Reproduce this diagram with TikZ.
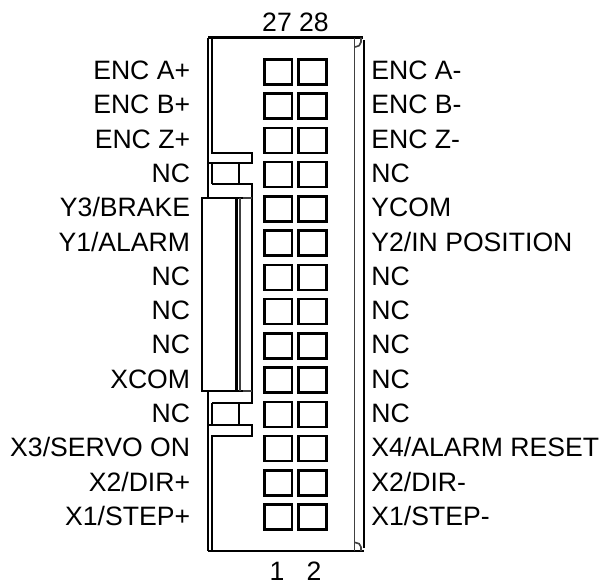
\documentclass[tikz,border=0pt]{standalone}
\usepackage{fontspec}
\setmainfont{Liberation Sans}
\tikzset{
    pinbox/.style={draw, line width=1.25pt, inner sep=0pt, minimum width=13.8pt, minimum height=12.5pt},
    pinlabel/.style={inner sep=0pt, font=\fontsize{13.3}{16}\selectfont},
    body/.style={line width=1.1pt},
    thinbody/.style={line width=0.8pt, black!75}
}

\begin{document}
\begin{tikzpicture}[x=0.5pt, y=-0.5pt]
    \useasboundingbox (0,0) rectangle (599,584);

    % Housing
    \draw[body] (208,37.5) -- (363,37.5);
    \draw[body] (208,551) -- (364,551);
    \draw[body] (208,37.5) -- (208,198);
    \draw[body] (208,391) -- (208,551);
    \draw[thinbody] (354.3,37.5) -- (354.3,551);
    \draw[body] (364.3,40) -- (364.3,548);
    \draw[thinbody] (361,37.5) -- (361,42) to[out=270,in=0] (355,47);
    \draw[thinbody] (361,551) -- (361,547) to[out=90,in=0] (355,542.5);

    % Upper latch
    \draw[body] (212,37.5) -- (212,153.3) -- (252,153.3) -- (252,163.3) -- (208,163.3);
    \draw[body] (212,163.3) -- (212,184.3);
    \draw[body] (239,163.3) -- (239,184.3);
    \draw[body] (212,184.3) -- (252,184.3) -- (252,403) -- (212,403);

    % Lower latch
    \draw[body] (212,403) -- (212,425);
    \draw[body] (239,403) -- (239,425);
    \draw[body] (208,425) -- (252,425) -- (252,435.7) -- (212,435.7) -- (212,551);

    % Side plug
    \draw[body] (202,198) rectangle (236.5,391);
    \draw[body] (236.5,198) -- (243,198);
    \draw[body] (236.5,391) -- (243,391);
    \draw[thinbody] (243,198) -- (252,198);
    \draw[thinbody] (243,391) -- (252,391);
    \draw[thinbody] (240,198) -- (240,391);

    % Pins
    \foreach \i in {0,...,13} {
        \node[pinbox] (pinl\i) at (278.3,{72+34.23*\i}) {};
        \node[pinbox] (pinr\i) at (312.5,{72+34.23*\i}) {};
    }

    % Labels
    \foreach \txt [count=\i from 0] in {ENC A+,ENC B+,ENC Z+,NC,Y3/BRAKE,Y1/ALARM,NC,NC,NC,XCOM,NC,X3/SERVO ON,X2/DIR+,X1/STEP+} {
        \node[pinlabel, anchor=base east] (left\i) at (190.5,{79.5+34.3*\i}) {\txt};
    }
    \foreach \txt [count=\i from 0] in {ENC A-,ENC B-,ENC Z-,NC,YCOM,Y2/IN POSITION,NC,NC,NC,NC,NC,X4/ALARM RESET,X2/DIR-,X1/STEP-} {
        \node[pinlabel, anchor=base west] (right\i) at (371,{79.5+34.3*\i}) {\txt};
    }
    \node[pinlabel, anchor=base] (top) at (295.5,31.7) {27 28};
    \node[pinlabel, anchor=base] (one) at (277,580) {1};
    \node[pinlabel, anchor=base] (two) at (314,580) {2};
\end{tikzpicture}
\end{document}
